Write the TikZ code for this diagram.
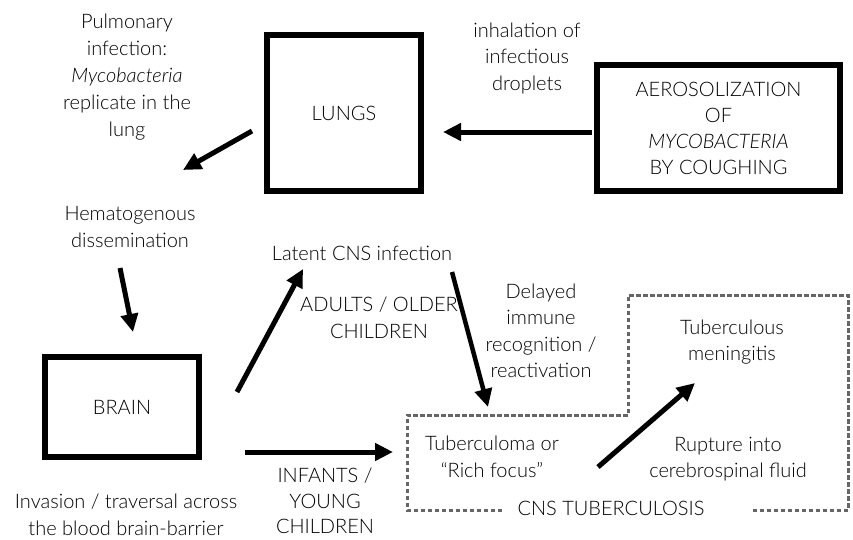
\documentclass[tikz,border=0pt]{standalone}
\usepackage{fontspec}
\setmainfont{Lato Light}[ItalicFont={Lato Light Italic}]
\usetikzlibrary{arrows.meta}
\begin{document}
\begin{tikzpicture}[x=1pt,y=-1pt,
  lbl/.style={align=center, inner sep=0pt, font=\fontsize{20}{26.5}\selectfont},
  box/.style={draw, line width=5.5pt, inner sep=0pt, align=center, font=\fontsize{20}{26}\selectfont},
  arr/.style={line width=5pt, -{Triangle[length=18pt,width=17pt]}},
  dashbox/.style={draw=black!60, line width=3pt, dash pattern=on 4.5pt off 2.5pt},
]
\useasboundingbox (0,0) rectangle (853,539);

% boxes
\node[box, minimum width=154pt, minimum height=156pt] (lungs) at (344,113) {LUNGS};
\node[box, minimum width=243pt, minimum height=126pt] (aero) at (718.5,128)
  {AEROSOLIZATION\\OF\\\textit{MYCOBACTERIA}\\BY COUGHING};
\node[box, minimum width=154pt, minimum height=100pt] (brain) at (122,407) {BRAIN};

% labels
\node[lbl, font=\fontsize{20}{27}\selectfont] (pulm) at (127,77)
  {Pulmonary\\infection:\\\textit{Mycobacteria}\\replicate in the\\lung};
\node[lbl] (hem) at (130,227) {Hematogenous\\dissemination};
\node[lbl] (inh) at (527,58) {inhalation of\\infectious\\droplets};
\node[lbl] (latent) at (362,253) {Latent CNS infection};
\node[lbl] (adults) at (379,318) {ADULTS / OLDER\\CHILDREN};
\node[lbl] (delayed) at (541,331) {Delayed\\immune\\recognition /\\reactivation};
\node[lbl] (menin) at (732,342) {Tuberculous\\meningitis};
\node[lbl] (tbm) at (492,457) {Tuberculoma or\\“Rich focus”};
\node[lbl] (rupture) at (728,459) {Rupture into\\cerebrospinal fluid};
\node[lbl] (invasion) at (126,515) {Invasion / traversal across\\the blood brain-barrier};
\node[lbl, font=\fontsize{20}{25.5}\selectfont] (infants) at (325,501) {INFANTS /\\YOUNG\\CHILDREN};

% dashed CNS region
\draw[dashbox] (502,510) -- (407,510) -- (407,415) -- (628,415) -- (628,295)
  -- (848,295) -- (848,510) -- (750,510);
\node[lbl] (cns) at (611,508) {CNS TUBERCULOSIS};

% arrow end points
\coordinate (a1) at (592,132);  \coordinate (a2) at (443,132);
\coordinate (b1) at (252,131);  \coordinate (b2) at (183,170);
\coordinate (c1) at (120,268);  \coordinate (c2) at (133,332);
\coordinate (d1) at (237,392);  \coordinate (d2) at (303,269);
\coordinate (e1) at (452,272);  \coordinate (e2) at (488,407);
\coordinate (f1) at (245,452);  \coordinate (f2) at (393,452);
\coordinate (g1) at (598,467);  \coordinate (g2) at (695,383);

\draw[arr] (a1) -- (a2);
\draw[arr] (b1) -- (b2);
\draw[arr] (c1) -- (c2);
\draw[arr] (d1) -- (d2);
\draw[arr, line width=4.5pt] (e1) -- (e2);
\draw[arr] (f1) -- (f2);
\draw[arr] (g1) -- (g2);
\end{tikzpicture}
\end{document}
